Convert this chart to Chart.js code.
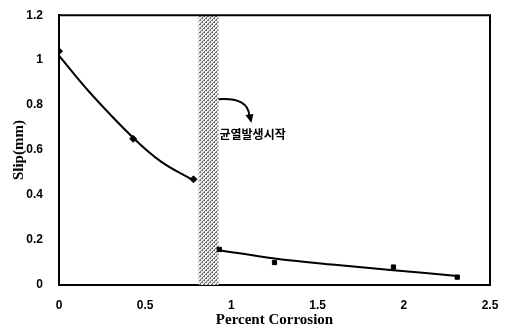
<!DOCTYPE html>
<html><head><meta charset="utf-8">
<script src="https://cdn.jsdelivr.net/npm/chart.js@4/dist/chart.umd.min.js"></script>
<style>html,body{margin:0;padding:0;background:#fff}#c{display:block}</style>
</head><body>
<div style="width:508px;height:329px"><canvas id="c" width="508" height="329"></canvas></div>
<script>
// data
const beforeX = [0, 0.43, 0.78];
const beforeY = [1.04, 0.65, 0.47];
const afterX = [0.93, 1.25, 1.94, 2.31];
const afterY = [0.158, 0.10, 0.08, 0.035];
const trend1X = [0, 0.18, 0.43, 0.59, 0.78];
const trend1Y = [1.02, 0.855, 0.655, 0.55, 0.465];
const trend2X = [0.93, 1.25, 1.6, 1.94, 2.31];
const trend2Y = [0.155, 0.118, 0.09, 0.066, 0.04];
const band = [0.81, 0.925];
const arrowStart = [0.925, 0.826];
const arrowEnd = [1.11, 0.725];
const labelPos = [0.925, 0.67];
const labelText = '균열발생시작';
const xTicks = [0, 0.5, 1, 1.5, 2, 2.5];
const yTicks = [0, 0.2, 0.4, 0.6, 0.8, 1, 1.2];

const pts = (xs, ys) => xs.map((x, i) => ({x, y: ys[i]}));

function hatch() {
  const p = document.createElement('canvas');
  p.width = 4; p.height = 4;
  const g = p.getContext('2d');
  g.fillStyle = '#ececec'; g.fillRect(0,0,4,4);
  g.fillStyle = '#707070';
  [[0,0],[2,2],[3,0],[1,2],[2,1],[0,3]].forEach(([a,b])=>g.fillRect(a,b,1,1));
  return p;
}

const deco = {
  id: 'deco',
  beforeDatasetsDraw(chart) {
    const {ctx, chartArea: a, scales: {x, y}} = chart;
    ctx.save();
    ctx.fillStyle = ctx.createPattern(hatch(), 'repeat');
    const x0 = x.getPixelForValue(band[0]), x1 = x.getPixelForValue(band[1]);
    ctx.fillRect(x0, a.top, x1 - x0, a.bottom - a.top);
    ctx.restore();
  },
  afterDraw(chart) {
    const {ctx, chartArea: a, scales: {x, y}} = chart;
    ctx.save();
    ctx.strokeStyle = '#000'; ctx.lineWidth = 2;
    ctx.beginPath();
    ctx.moveTo(a.left, a.top); ctx.lineTo(a.right, a.top); ctx.lineTo(a.right, a.bottom);
    ctx.stroke();
    // arrow
    const sx = x.getPixelForValue(arrowStart[0]), sy = y.getPixelForValue(arrowStart[1]);
    const ex = x.getPixelForValue(arrowEnd[0]), ey = y.getPixelForValue(arrowEnd[1]);
    ctx.lineWidth = 2;
    ctx.beginPath();
    ctx.moveTo(sx, sy);
    ctx.quadraticCurveTo(ex - 2, sy - 2, ex - 1, ey - 6);
    ctx.stroke();
    ctx.fillStyle = '#000';
    ctx.beginPath();
    ctx.moveTo(ex + 1, ey + 1); ctx.lineTo(ex - 5, ey - 7); ctx.lineTo(ex + 3, ey - 8);
    ctx.closePath(); ctx.fill();
    ctx.font = 'bold 12px "Noto Sans CJK KR"';
    ctx.textBaseline = 'middle';
    ctx.fillText(labelText, x.getPixelForValue(labelPos[0]) + 1, y.getPixelForValue(labelPos[1]));
    ctx.restore();
  }
};

new Chart(document.getElementById('c'), {
  type: 'scatter',
  data: {
    datasets: [
      {data: pts(trend1X, trend1Y), showLine: true, borderColor: '#000', borderWidth: 2, pointRadius: 0, tension: 0.4, fill: false},
      {data: pts(trend2X, trend2Y), showLine: true, borderColor: '#000', borderWidth: 2, pointRadius: 0, tension: 0.4, fill: false},
      {data: pts(beforeX, beforeY), pointStyle: 'rectRot', pointRadius: 3.5, backgroundColor: '#000', borderColor: '#000'},
      {data: pts(afterX, afterY), pointStyle: 'rect', pointRadius: 3, backgroundColor: '#000', borderColor: '#000'}
    ]
  },
  options: {
    responsive: false, animation: false, devicePixelRatio: 1,
    layout: {padding: {left: 0, right: 18, top: 12, bottom: 0}},
    plugins: {legend: {display: false}, tooltip: {enabled: false}},
    scales: {
      x: {
        type: 'linear', min: 0, max: 2.5,
        afterBuildTicks: s => { s.ticks = xTicks.map(v => ({value: v})); },
        afterFit: s => { s.height = 44; },
        grid: {display: false},
        border: {display: true, color: '#000', width: 2},
        ticks: {color: '#000', padding: 5, font: {family: 'Liberation Sans', weight: 'bold', size: 12}, callback: v => String(v)},
        title: {display: true, text: 'Percent Corrosion', color: '#000', padding: {top: 0, bottom: 0}, font: {family: 'Liberation Serif', weight: 'bold', size: 15}}
      },
      y: {
        type: 'linear', min: 0, max: 1.2,
        afterBuildTicks: s => { s.ticks = yTicks.map(v => ({value: v})); },
        afterFit: s => { s.width = 59; },
        grid: {display: false},
        border: {display: true, color: '#000', width: 2},
        ticks: {color: '#000', padding: 8, font: {family: 'Liberation Sans', weight: 'bold', size: 12}, callback: v => String(v)},
        title: {display: true, text: 'Slip(mm)', color: '#000', padding: {top: 10, bottom: 0}, font: {family: 'Liberation Serif', weight: 'bold', size: 15}}
      }
    }
  },
  plugins: [deco]
});
</script>
</body></html>
